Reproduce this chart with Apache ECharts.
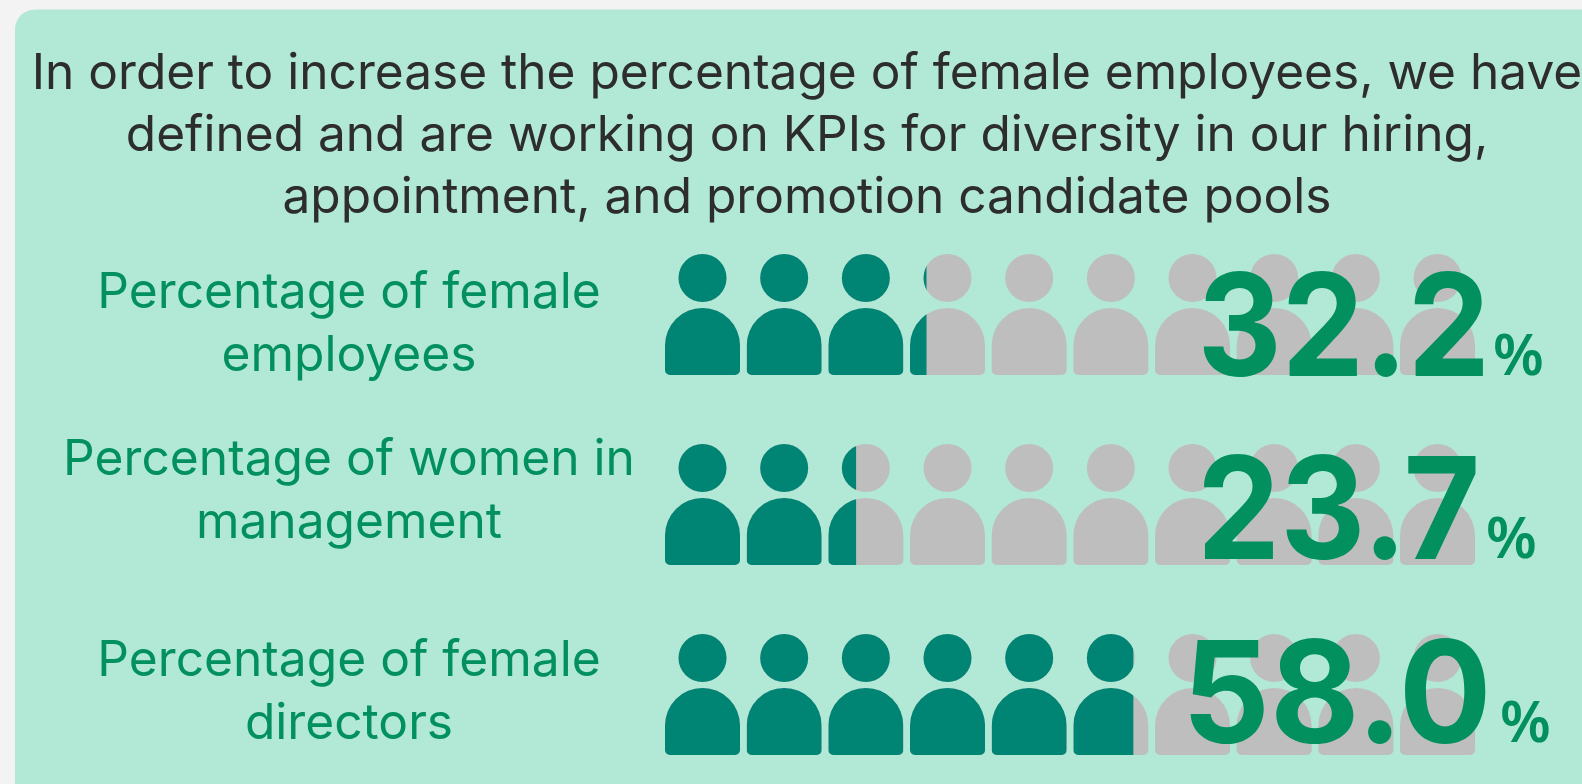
<!DOCTYPE html>
<html>
<head>
<meta charset="utf-8">
<style>
html, body { margin: 0; padding: 0; background: #f3f3f3; overflow: hidden; }
#chart { width: 1582px; height: 784px; }
</style>
<script src="https://cdn.jsdelivr.net/npm/echarts@6/dist/echarts.min.js"></script>
</head>
<body>
<div id="chart"></div>
<script>
// Diversity KPIs, one row of ten figures per measure
const categories = ['Percentage of female\nemployees', 'Percentage of women in\nmanagement', 'Percentage of female\ndirectors'];
const percentages = [32.2, 23.7, 58.0];
const valueLabels = ['32.2', '23.7', '58.0'];
const headline = 'In order to increase the percentage of female employees, we have\ndefined and are working on KPIs for diversity in our hiring,\nappointment, and promotion candidate pools';

const FIGURES = 10;
const FONT = 'Inter';
const PERCENT_FONT = '"Noto Sans"';
const ICON_W = 75, ICON_H = 121, PITCH = 81.67;
// Person glyph in a 75x121 box: head circle above a round-shouldered body
const personPath = 'M13.5 24A24 24 0 1 1 61.5 24A24 24 0 1 1 13.5 24Z' +
  'M0 91.5A37.5 37.5 0 0 1 75 91.5V116A5 5 0 0 1 70 121H5A5 5 0 0 1 0 116Z';

// Placement of the text blocks relative to each row centre
const labelCentreOffset = [10, -12.5, -1.5];
const numberX = [1197.5, 1197, 1182];
const numberBottomOffset = [89.4, 82.8, 76.4];
const numberScaleX = [0.92, 0.93, 0.97];
const percentX = [1493, 1486, 1500];
const percentBottomOffset = [73, 66, 60];

const chart = echarts.init(document.getElementById('chart'));

function figure(x, y, fill, clipW) {
  const el = {
    type: 'path',
    shape: { pathData: personPath, x: x, y: y, width: ICON_W, height: ICON_H, layout: 'cover' },
    style: { fill: fill }
  };
  if (clipW !== undefined) {
    el.clipPath = { type: 'rect', shape: { x: x, y: y, width: clipW, height: ICON_H } };
  }
  return el;
}

function renderRow(params, api) {
  const row = api.value(0);
  const pct = api.value(1);
  const centre = api.coord([0, row]);
  const top = centre[1] - ICON_H / 2;
  const filled = pct / (100 / FIGURES);
  const children = [];
  for (let i = 0; i < FIGURES; i++) {
    const cellLeft = api.coord([i * (100 / FIGURES), row])[0];
    const x = cellLeft + (PITCH - ICON_W) / 2;
    const share = Math.max(0, Math.min(1, filled - i));
    children.push(figure(x, top, '#bebebe'));
    if (share > 0) children.push(figure(x, top, '#008575', share * ICON_W));
  }
  children.push({
    type: 'text',
    style: {
      x: 349, y: centre[1] + labelCentreOffset[row],
      text: categories[row], fill: '#02905f',
      font: '400 49.7px ' + FONT, lineHeight: 63,
      align: 'center', verticalAlign: 'middle'
    }
  });
  children.push({
    type: 'text',
    originX: numberX[row],
    scaleX: numberScaleX[row],
    style: {
      x: numberX[row], y: centre[1] + numberBottomOffset[row],
      text: valueLabels[row], fill: '#02905f',
      font: '700 142px ' + FONT,
      align: 'left', verticalAlign: 'bottom'
    }
  });
  children.push({
    type: 'text',
    style: {
      x: percentX[row], y: centre[1] + percentBottomOffset[row],
      text: '%', fill: '#02905f',
      font: '600 58px ' + PERCENT_FONT,
      align: 'left', verticalAlign: 'bottom'
    }
  });
  return { type: 'group', children: children };
}

chart.setOption({
  animation: false,
  backgroundColor: '#f3f3f3',
  title: {
    text: headline, left: 802, top: 38, textAlign: 'center',
    textStyle: { color: '#2d2d2d', fontFamily: FONT, fontWeight: 400, fontSize: 49.6, lineHeight: 62 }
  },
  grid: { left: 661.67, width: 816.7, top: 219.5, height: 570, outerBoundsMode: 'none' },
  xAxis: { type: 'value', min: 0, max: 100, show: false },
  yAxis: { type: 'category', inverse: true, show: false, data: categories },
  graphic: [{
    type: 'rect', z: -1, silent: true,
    shape: { x: 15, y: 9.5, width: 1620, height: 820, r: 20 },
    style: { fill: '#b2e8d6' }
  }],
  series: [{
    type: 'custom',
    clip: false,
    renderItem: renderRow,
    data: percentages.map((v, i) => [i, v]),
    encode: { x: 1, y: 0 }
  }]
});
</script>
</body>
</html>
